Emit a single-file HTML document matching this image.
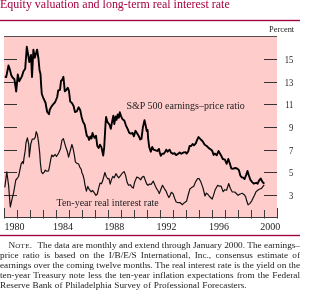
<!DOCTYPE html>
<html><head><meta charset="utf-8"><style>
html,body{margin:0;padding:0;background:#fff;width:300px;height:292px;overflow:hidden;position:relative}
.note{will-change:transform;position:absolute;left:0;top:239.7px;width:300px;font-family:"Liberation Serif",serif;font-size:9.25px;line-height:10px;color:#222}
.nl{height:10px;white-space:nowrap;text-align:justify;text-align-last:justify}
.nl.last{text-align-last:left;word-spacing:0.45px}
.nl.first{text-indent:8.5px}
.sc{font-size:7px;letter-spacing:0.35px}
</style></head><body>
<svg width="300" height="292" style="position:absolute;left:0;top:0;will-change:transform"><rect x="4" y="36" width="273" height="181" fill="#ffcccc"/><line x1="4" y1="36.5" x2="277" y2="36.5" stroke="#554d4d" stroke-width="1"/><line x1="4" y1="217.5" x2="277" y2="217.5" stroke="#3a3a3a" stroke-width="1"/><line x1="4" y1="59.5" x2="17" y2="59.5" stroke="#333" stroke-width="1"/><line x1="264" y1="59.5" x2="277" y2="59.5" stroke="#333" stroke-width="1"/><line x1="4" y1="82.5" x2="17" y2="82.5" stroke="#333" stroke-width="1"/><line x1="264" y1="82.5" x2="277" y2="82.5" stroke="#333" stroke-width="1"/><line x1="4" y1="104.5" x2="17" y2="104.5" stroke="#333" stroke-width="1"/><line x1="264" y1="104.5" x2="277" y2="104.5" stroke="#333" stroke-width="1"/><line x1="4" y1="127.5" x2="17" y2="127.5" stroke="#333" stroke-width="1"/><line x1="264" y1="127.5" x2="277" y2="127.5" stroke="#333" stroke-width="1"/><line x1="4" y1="150.5" x2="17" y2="150.5" stroke="#333" stroke-width="1"/><line x1="264" y1="150.5" x2="277" y2="150.5" stroke="#333" stroke-width="1"/><line x1="4" y1="172.5" x2="17" y2="172.5" stroke="#333" stroke-width="1"/><line x1="264" y1="172.5" x2="277" y2="172.5" stroke="#333" stroke-width="1"/><line x1="4" y1="195.5" x2="17" y2="195.5" stroke="#333" stroke-width="1"/><line x1="264" y1="195.5" x2="277" y2="195.5" stroke="#333" stroke-width="1"/><line x1="4.5" y1="208" x2="4.5" y2="218.5" stroke="#3a3a3a" stroke-width="1"/><line x1="17.5" y1="210" x2="17.5" y2="218.5" stroke="#3a3a3a" stroke-width="1"/><line x1="30.5" y1="210" x2="30.5" y2="218.5" stroke="#3a3a3a" stroke-width="1"/><line x1="43.5" y1="210" x2="43.5" y2="218.5" stroke="#3a3a3a" stroke-width="1"/><line x1="56.5" y1="210" x2="56.5" y2="218.5" stroke="#3a3a3a" stroke-width="1"/><line x1="69.5" y1="210" x2="69.5" y2="218.5" stroke="#3a3a3a" stroke-width="1"/><line x1="82.5" y1="210" x2="82.5" y2="218.5" stroke="#3a3a3a" stroke-width="1"/><line x1="95.5" y1="210" x2="95.5" y2="218.5" stroke="#3a3a3a" stroke-width="1"/><line x1="108.5" y1="210" x2="108.5" y2="218.5" stroke="#3a3a3a" stroke-width="1"/><line x1="121.5" y1="210" x2="121.5" y2="218.5" stroke="#3a3a3a" stroke-width="1"/><line x1="134.5" y1="210" x2="134.5" y2="218.5" stroke="#3a3a3a" stroke-width="1"/><line x1="147.5" y1="210" x2="147.5" y2="218.5" stroke="#3a3a3a" stroke-width="1"/><line x1="160.5" y1="210" x2="160.5" y2="218.5" stroke="#3a3a3a" stroke-width="1"/><line x1="173.5" y1="210" x2="173.5" y2="218.5" stroke="#3a3a3a" stroke-width="1"/><line x1="186.5" y1="210" x2="186.5" y2="218.5" stroke="#3a3a3a" stroke-width="1"/><line x1="199.5" y1="210" x2="199.5" y2="218.5" stroke="#3a3a3a" stroke-width="1"/><line x1="212.5" y1="210" x2="212.5" y2="218.5" stroke="#3a3a3a" stroke-width="1"/><line x1="225.5" y1="210" x2="225.5" y2="218.5" stroke="#3a3a3a" stroke-width="1"/><line x1="238.5" y1="210" x2="238.5" y2="218.5" stroke="#3a3a3a" stroke-width="1"/><line x1="251.5" y1="210" x2="251.5" y2="218.5" stroke="#3a3a3a" stroke-width="1"/><line x1="264.5" y1="210" x2="264.5" y2="218.5" stroke="#3a3a3a" stroke-width="1"/><line x1="277.5" y1="208" x2="277.5" y2="218.5" stroke="#3a3a3a" stroke-width="1"/><path d="M4.8 187.3 L6.8 171.8 L8.6 185.5 L10.3 207 L12 199.2 L13.7 192.4 L15.8 180 L17.1 178.5 L18.5 176.5 L19.8 170.5 L21.2 163.7 L22.6 161.6 L23.3 163.7 L24 158.2 L25.3 150 L26 142.6 L27.4 137.8 L28.8 144.7 L29.3 157 L30.8 144 L32.2 139.2 L34 139.2 L35.3 137.1 L36.2 131.6 L37.4 134.6 L38.5 141.9 L39.7 152.9 L40.4 163.2 L41.5 172.1 L42.8 173.5 L44.2 172.1 L45.3 170.1 L46.7 171.2 L48.6 170.8 L49.7 165.3 L50.8 159.1 L51.8 155 L53.1 156.5 L55.2 154.5 L56.5 156.5 L58.6 153.1 L60.4 149 L62 140.1 L63.4 138.7 L65.5 146.2 L67.2 151 L68.6 157.2 L70.2 151 L71.9 144.5 L73.1 148.5 L74.1 153.7 L75.4 161.9 L76.8 163.3 L78.6 164 L79.9 167.4 L81.3 169.5 L81.9 172.8 L83 175 L84.1 179.3 L85 185.1 L86.4 191.2 L87.8 186.4 L89.1 189.2 L91.2 191.9 L92.5 190.5 L94.2 192.6 L96 195.3 L97.3 194 L98.7 187.8 L100.1 183 L101.5 183.7 L102.8 180.3 L104.9 172.5 L106.2 176.5 L107.9 179 L109 178.5 L110.2 184.2 L111.4 179.9 L112.8 176.4 L114.2 177.8 L115.9 173.7 L117.3 175.8 L118.7 177.8 L120.3 175.8 L122.4 173 L124.2 171.6 L125.5 175.1 L127.2 182.6 L128.5 185.3 L130.2 184.7 L131.6 186.7 L133.3 188.1 L134.7 181.9 L136.8 177.1 L138.8 177.8 L140.6 179.9 L142.2 177.1 L143.9 176.4 L145.4 180.5 L146.7 184 L148.1 185.3 L149.5 184 L151.1 184.4 L153.3 181.2 L155 185.3 L156.3 188.1 L158 190.8 L159.3 193.6 L161.1 188.8 L162.5 185.3 L164.5 188.8 L165.9 190.8 L167.6 194.9 L168.9 197.5 L170 195.6 L171.4 192.3 L173.1 193.7 L174.7 198.5 L176.2 202 L178.3 202.7 L180.3 202.7 L182.4 204.7 L184.4 202.7 L186.5 201.3 L188.3 194.5 L189.9 189 L191.6 187.6 L193.8 186.2 L195.4 182.1 L197.5 178.7 L199.2 178.7 L200.9 182.1 L202.9 187.6 L205 196 L206.4 193.1 L207.7 194.2 L209.5 196.5 L212.2 199 L213.6 195.1 L215.2 189.7 L217.7 185.3 L219.3 186.2 L221.1 186.2 L223.2 191.7 L224.8 189.7 L226.6 190.3 L228.7 183.5 L230.4 188.5 L232.3 192 L234.8 192 L236.8 194 L238.1 195.3 L240.1 194 L242.2 193.3 L244.2 194.7 L245.6 196.7 L246.7 200.8 L248.1 204.9 L249.7 203.6 L251.8 200.8 L253.1 198.1 L254.5 195.3 L255.9 191.9 L257.7 190.3 L259.4 189.2 L261.5 188.4 L262.8 186.7 L264.2 184.8" fill="none" stroke="#111" stroke-width="1.2" stroke-linejoin="round"/><path d="M4.8 76.4 L6.2 77.1 L8.5 65.5 L9.9 69.6 L11.2 75 L12.6 77.5 L14.4 79.2 L16.2 91.5 L17.8 74.4 L19.2 81.2 L21.9 76.4 L23.4 71.5 L25.2 68.8 L26.8 46.8 L28.2 55 L29.3 62 L31 55 L32 77 L33.4 49.6 L34.8 57.8 L37.1 49.6 L38.5 59 L39.5 70 L40.5 74 L41.2 86 L41.8 94 L43.5 98.5 L44.2 99.8 L45.6 103 L46.3 107.3 L47.2 112 L49 114.2 L49.7 110 L51 107.3 L53.1 104.4 L55.2 102 L57.2 97 L58.2 90.5 L60 89.9 L61 81 L62.3 79.6 L63.4 76.8 L64.8 91.2 L66.4 89.9 L67.8 87.8 L68.9 90.5 L70.2 101.5 L71.9 102.9 L73.6 106 L75 112.1 L76.8 111.4 L78.6 107.3 L80.2 110 L81.6 116.9 L83 121.7 L84.6 124.5 L85.7 130 L86.8 135.8 L88.2 137.1 L89.1 139.9 L90.5 136.4 L91.5 138.5 L92.5 133 L93.6 135.8 L94.6 137.8 L96 135.8 L97.3 146 L98.7 148 L100 144.7 L101.5 147.4 L103.2 155.6 L104.2 147.4 L105.6 122.7 L106.1 117 L107.4 122 L109.5 124.7 L110.8 128.8 L112.2 121.2 L113.3 115.8 L114.3 124 L115.6 116.4 L116.6 119.9 L117.7 114.4 L118.8 117.8 L119.8 112.3 L121.1 116.4 L122.5 119.2 L124.3 120.5 L125.9 125.3 L127.6 128.8 L129.3 132.9 L130.7 133.6 L132.5 132.9 L133.9 136.3 L135.5 130.8 L137.2 133.6 L138.9 136.3 L140.3 139.5 L141.5 138.8 L142.8 127.8 L144.5 120.3 L145.9 126.4 L146.7 131 L147.6 130 L148.1 138 L149.2 147 L150.8 151.7 L152.2 146.9 L153.5 149.7 L155.6 150.3 L157.2 151 L159 149 L159.7 152.4 L160.8 155.8 L162.2 153.8 L163.8 153.8 L165.2 151.7 L166.3 149.7 L167.6 151.7 L169.6 149.7 L170.9 152.4 L172.7 153.8 L174.5 153.1 L176.1 155.1 L178.2 153.8 L179.6 152.4 L181.3 153.8 L183.7 152.4 L185.5 152.2 L186.6 153.6 L188.2 151.5 L189.6 146 L191.2 146 L192.6 144 L194 145.3 L195.8 143.3 L197.1 139.9 L198.5 137.1 L200.5 139.2 L202.6 141.2 L204.7 144.7 L206.7 146 L208.8 148.1 L210.8 149.5 L212.2 150.8 L213.6 154.9 L214.9 153.6 L216.7 155.3 L218.5 151 L220.8 154.9 L222.8 159 L224.9 159.7 L226.7 163.8 L228.3 159 L229.7 163.1 L231.3 168.6 L233.3 168.7 L235.3 168 L237.4 168.7 L238.9 170.1 L240.3 175.5 L241.6 177.3 L243.2 177.6 L244.6 179 L246.2 174.9 L247.5 171 L248.9 175.5 L250.3 179.6 L252.4 182.3 L253.8 183.7 L255.1 183.2 L256.4 182.8 L257.7 183.7 L259 180.7 L260.7 178.5 L262 181.1 L263.2 182.8 L264.5 183.5" fill="none" stroke="#000" stroke-width="1.9" stroke-linejoin="round"/><text transform="translate(0,8.35) scale(0.92,1)" x="0" y="0" font-family="Liberation Serif" font-size="13" fill="#a5003f">Equity valuation and long-term real interest rate</text><rect x="0" y="19" width="300" height="3" fill="#a0003c" fill-opacity="0.18"/><rect x="0" y="20" width="300" height="1" fill="#a0003c"/><rect x="0" y="234" width="300" height="3" fill="#a0003c" fill-opacity="0.18"/><rect x="0" y="235" width="300" height="1" fill="#a0003c"/><text x="294.2" y="31.6" font-family="Liberation Serif" font-size="8.4" fill="#222" text-anchor="end">Percent</text><text transform="translate(293.4,63.0) scale(0.86,1.03)" font-family="Liberation Serif" font-size="10" fill="#222" text-anchor="end">15</text><text transform="translate(293.4,86.0) scale(0.86,1.03)" font-family="Liberation Serif" font-size="10" fill="#222" text-anchor="end">13</text><text transform="translate(293.4,108.0) scale(0.86,1.03)" font-family="Liberation Serif" font-size="10" fill="#222" text-anchor="end">11</text><text transform="translate(293.4,131.0) scale(0.86,1.03)" font-family="Liberation Serif" font-size="10" fill="#222" text-anchor="end">9</text><text transform="translate(293.4,154.0) scale(0.86,1.03)" font-family="Liberation Serif" font-size="10" fill="#222" text-anchor="end">7</text><text transform="translate(293.4,176.0) scale(0.86,1.03)" font-family="Liberation Serif" font-size="10" fill="#222" text-anchor="end">5</text><text transform="translate(293.4,199.0) scale(0.86,1.03)" font-family="Liberation Serif" font-size="10" fill="#222" text-anchor="end">3</text><text x="4.6" y="229.5" font-family="Liberation Serif" font-size="10" fill="#222">1980</text><text x="53" y="229.5" font-family="Liberation Serif" font-size="10" fill="#222">1984</text><text x="104.2" y="229.5" font-family="Liberation Serif" font-size="10" fill="#222">1988</text><text x="156.4" y="229.5" font-family="Liberation Serif" font-size="10" fill="#222">1992</text><text x="209" y="229.5" font-family="Liberation Serif" font-size="10" fill="#222">1996</text><text x="260.2" y="229.5" font-family="Liberation Serif" font-size="10" fill="#222">2000</text><text x="126.5" y="108.8" font-family="Liberation Serif" font-size="10" fill="#222">S&amp;P 500 earnings–price ratio</text><text x="56.5" y="205.5" font-family="Liberation Serif" font-size="10" fill="#222">Ten-year real interest rate</text></svg>
<div class="note"><div class="nl first">N<span class="sc">OTE</span>.<span style="display:inline-block;width:3px"></span> The data are monthly and extend through January 2000. The earnings–</div><div class="nl">price ratio is based on the I/B/E/S International, Inc., consensus estimate of</div><div class="nl">earnings over the coming twelve months. The real interest rate is the yield on the</div><div class="nl">ten-year Treasury note less the ten-year inflation expectations from the Federal</div><div class="nl last">Reserve Bank of Philadelphia Survey of Professional Forecasters.</div></div>
</body></html>
